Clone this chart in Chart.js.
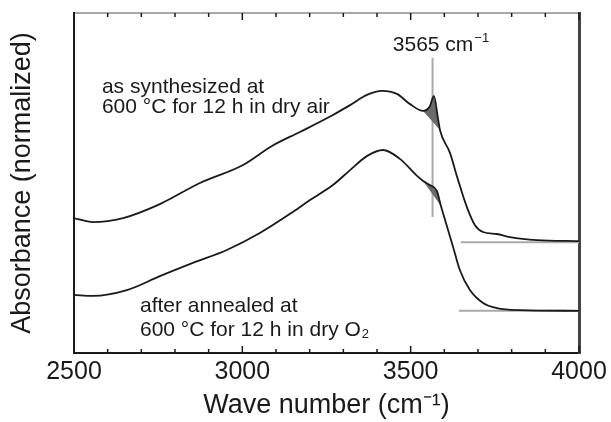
<!DOCTYPE html>
<html>
<head>
<meta charset="utf-8">
<script src="https://cdn.jsdelivr.net/npm/chart.js@4.4.1/dist/chart.umd.min.js"></script>
<style>
	body { margin: 0; background: #fff; }
	canvas { display: block; }
</style>
</head>
<body>
<canvas id="chart" width="611" height="422"></canvas>
<script>
// as synthesized at 600 °C, 12 h, dry air
const synthWave = [2500, 2556, 2646, 2755, 2874, 3002, 3088, 3171, 3269, 3320, 3370, 3415, 3459, 3498, 3537, 3557, 3569, 3581, 3587, 3617, 3638, 3667, 3691, 3715, 3756, 3795, 3875, 4000];
const synthAbs = [39.7, 38.5, 39.7, 43.8, 50.0, 55.3, 60.9, 65.0, 70.0, 72.9, 75.9, 77.1, 76.2, 73.2, 71.2, 72.6, 75.6, 69.1, 65.6, 58.8, 51.8, 42.9, 37.6, 35.6, 35.0, 34.1, 33.2, 32.9];

// after annealing at 600 °C, 12 h, dry O2
const annealWave = [2500, 2556, 2657, 2755, 2853, 2954, 3052, 3150, 3201, 3269, 3320, 3370, 3418, 3468, 3519, 3537, 3557, 3578, 3590, 3596, 3626, 3646, 3676, 3715, 3756, 3825, 4000];
const annealAbs = [17.1, 16.8, 18.5, 22.6, 26.5, 30.3, 35.3, 41.5, 45.0, 49.4, 53.8, 57.9, 59.7, 57.1, 52.1, 50.6, 49.4, 47.6, 43.2, 41.2, 31.2, 24.4, 18.5, 14.7, 13.2, 12.6, 12.4];

// shaded 3565 band limits, per curve
const synthBand = [3537, 3587];
const annealBand = [3537, 3590];

// flat reference lines on the right
const baseStart = [3649, 3643];
const baseLevel = [32.6, 12.4];

const peakMark = 3565;
const peakMarkSpan = [40.0, 86.8];

const xTickLabels = [2500, 3000, 3500, 4000];

const font = "'Liberation Sans', Arial, Helvetica, sans-serif";
const ink = '#1a1a1a';

const pts = (xs, ys) => xs.map((x, i) => ({x, y: ys[i]}));
const band = (xs, ys, [a, b]) => pts(xs, ys).filter(p => p.x >= a && p.x <= b);
const chord = p => [p[0], p[p.length - 1]];

const synthPeak = band(synthWave, synthAbs, synthBand);
const annealPeak = band(annealWave, annealAbs, annealBand);

const curve = (data) => ({
	data, borderColor: ink, borderWidth: 1.8, pointRadius: 0,
	cubicInterpolationMode: 'monotone', fill: false
});
const grayLine = (data) => ({
	data, borderColor: '#aaaaaa', borderWidth: 2, pointRadius: 0, fill: false
});

const datasets = [
	curve(pts(synthWave, synthAbs)),
	curve(pts(annealWave, annealAbs)),
	{data: synthPeak, borderWidth: 0, pointRadius: 0, backgroundColor: '#6a6a6a', fill: {target: 3}},
	{data: chord(synthPeak), borderWidth: 0, pointRadius: 0, fill: false},
	{data: annealPeak, borderWidth: 0, pointRadius: 0, backgroundColor: '#6a6a6a', fill: {target: 5}},
	{data: chord(annealPeak), borderWidth: 0, pointRadius: 0, fill: false},
	grayLine([{x: baseStart[0], y: baseLevel[0]}, {x: 4000, y: baseLevel[0]}]),
	grayLine([{x: baseStart[1], y: baseLevel[1]}, {x: 4000, y: baseLevel[1]}]),
	grayLine([{x: peakMark, y: peakMarkSpan[0]}, {x: peakMark, y: peakMarkSpan[1]}])
];

// inward ticks on top and bottom, plus the text notes
const marks = {
	id: 'marks',
	afterDraw(chart) {
		const {ctx, chartArea: a, scales: {x, y}} = chart;
		ctx.save();
		ctx.strokeStyle = ink;
		ctx.lineWidth = 1.5;
		x.ticks.forEach(t => {
			const px = x.getPixelForValue(t.value);
			const len = t.value % 500 ? 4 : 7;
			ctx.beginPath();
			ctx.moveTo(px, a.bottom);
			ctx.lineTo(px, a.bottom - len);
			ctx.moveTo(px, a.top);
			ctx.lineTo(px, a.top + len);
			ctx.stroke();
		});

		ctx.fillStyle = ink;
		ctx.textBaseline = 'middle';
		ctx.textAlign = 'left';
		const write = (str, wx, vy, size, sub) => {
			const px = x.getPixelForValue(wx), py = y.getPixelForValue(vy);
			ctx.font = size + 'px ' + font;
			ctx.fillText(str, px, py);
			if (sub) {
				const w = ctx.measureText(str).width;
				ctx.font = sub.size + 'px ' + font;
				ctx.fillText(sub.text, px + w + 1, py + sub.dy);
			}
		};
		write('as synthesized at', 2583, 78.2, 21);
		write('600 °C for 12 h in dry air', 2583, 72.4, 21);
		write('after annealed at', 2696, 13.8, 21);
		write('600 °C for 12 h in dry O', 2696, 6.8, 21, {text: '2', size: 13, dy: 5});
		write('3565 cm', 3447, 90.6, 21, {text: '−1', size: 13, dy: -7});
		ctx.restore();
	}
};

new Chart(document.getElementById('chart'), {
	type: 'line',
	data: {datasets},
	plugins: [marks],
	options: {
		responsive: false,
		animation: false,
		devicePixelRatio: 1,
		layout: {padding: 0},
		plugins: {legend: {display: false}, tooltip: {enabled: false}},
		scales: {
			x: {
				type: 'linear', min: 2500, max: 4000,
				grid: {display: false, drawTicks: false},
				border: {color: ink, width: 2},
				ticks: {
					stepSize: 100, autoSkip: false, maxRotation: 0, padding: 4,
					color: ink, font: {family: font, size: 25},
					callback: v => xTickLabels.includes(v) ? String(v) : ''
				},
				title: {
					display: true, text: 'Wave number (cm⁻¹)', color: ink,
					font: {family: font, size: 27, lineHeight: 1}, padding: {top: 0, bottom: 3}
				},
				afterFit(s) { s.height = 69; }
			},
			x2: {
				type: 'linear', position: 'top', min: 2500, max: 4000,
				grid: {display: false, drawTicks: false},
				ticks: {display: false},
				border: {color: '#a8a8a8', width: 2},
				afterFit(s) { s.height = 13; }
			},
			y: {
				min: 0, max: 100,
				grid: {display: false, drawTicks: false},
				ticks: {display: false},
				border: {color: ink, width: 2},
				title: {
					display: true, text: 'Absorbance (normalized)', color: ink,
					font: {family: font, size: 27}, padding: {top: 6}
				},
				afterFit(s) { s.width = 74; }
			},
			y2: {
				position: 'right', min: 0, max: 100,
				grid: {display: false, drawTicks: false},
				ticks: {display: false},
				border: {color: '#444', width: 3},
				afterFit(s) { s.width = 32; }
			}
		}
	}
});
</script>
</body>
</html>
